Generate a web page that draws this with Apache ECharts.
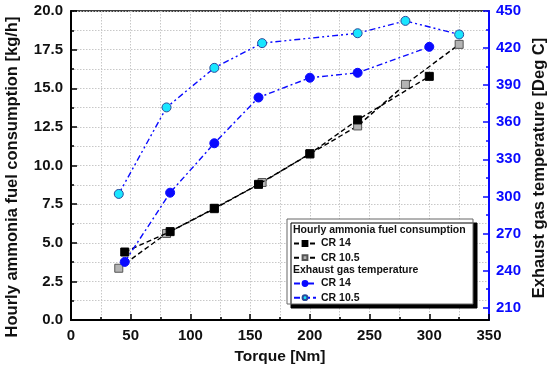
<!DOCTYPE html>
<html>
<head>
<meta charset="utf-8">
<script src="https://cdn.jsdelivr.net/npm/echarts@6/dist/echarts.min.js"></script>
<style>html,body{margin:0;padding:0;background:#fff}#c{width:550px;height:378px}</style>
</head>
<body>
<div id="c"></div>
<script>
// ---- data ----
const fuelCR14X = [45, 83, 120, 157, 200, 240, 300];
const fuelCR14 = [4.40, 5.72, 7.23, 8.78, 10.76, 12.95, 15.77];
const fuelCR105X = [40, 80, 120, 160, 200, 240, 280, 325];
const fuelCR105 = [3.35, 5.60, 7.20, 8.90, 10.75, 12.56, 15.25, 17.84];
const tempCR14X = [45, 83, 120, 157, 200, 240, 300];
const tempCR14 = [247, 303, 343, 380, 396, 400, 421];
const tempCR105X = [40, 80, 120, 160, 240, 280, 325];
const tempCR105 = [302, 372, 404, 424, 432, 442, 431];
const tempTicks = [210, 240, 270, 300, 330, 360, 390, 420, 450];
const tempMinorTicks = [225, 255, 285, 315, 345, 375, 405, 435];
const legendNames = {fuel14: 'CR 14', fuel105: 'CR 10.5', temp14: 'CR 14', temp105: 'CR 10.5'};

const pair = (xs, ys) => xs.map((x, i) => [x, ys[i]]);
const FONT = '"Liberation Sans", Arial, sans-serif';
const BLUE = '#0a0aff';

const chart = echarts.init(document.getElementById('c'), null, {renderer: 'canvas'});
const dotted = {show: true, lineStyle: {color: '#c8c8c8', type: [1.5, 1.5], width: 1}};

chart.setOption({
  animation: false,
  grid: {left: 71, right: 61, top: 11, bottom: 58, show: true, borderColor: '#000', borderWidth: 1.5, backgroundColor: 'transparent'},
  xAxis: {
    type: 'value', min: 0, max: 350, interval: 50,
    name: 'Torque [Nm]', nameLocation: 'middle', nameGap: 29,
    nameTextStyle: {fontFamily: FONT, fontWeight: 'bold', fontSize: 15.5, color: '#111'},
    axisLine: {show: true, lineStyle: {color: '#000', width: 2}},
    axisTick: {show: true, inside: true, length: 6, lineStyle: {color: '#000', width: 1.5}},
    minorTick: {show: true, splitNumber: 2, length: 3, lineStyle: {color: '#000', width: 1.5}},
    axisLabel: {fontFamily: FONT, fontWeight: 'bold', fontSize: 15, color: '#111', margin: 8},
    splitLine: dotted,
    minorSplitLine: dotted
  },
  yAxis: [
    {
      type: 'value', min: 0, max: 20, interval: 2.5, position: 'left',
      axisLine: {show: true, lineStyle: {color: '#000', width: 2}},
      axisTick: {show: true, inside: true, length: 6, lineStyle: {color: '#000', width: 1.5}},
      minorTick: {show: true, splitNumber: 2, length: 3, lineStyle: {color: '#000', width: 1.5}},
      axisLabel: {fontFamily: FONT, fontWeight: 'bold', fontSize: 15, color: '#111', margin: 8, formatter: v => v.toFixed(1)},
      splitLine: dotted,
      minorSplitLine: dotted
    },
    {
      type: 'value', min: 200, max: 450, position: 'right',
      axisLine: {show: true, lineStyle: {color: BLUE, width: 2}},
      axisTick: {show: true, inside: true, length: 6, customValues: tempTicks, lineStyle: {color: BLUE, width: 1.5}},
      axisLabel: {fontFamily: FONT, fontWeight: 'bold', fontSize: 15, color: BLUE, margin: 7, customValues: tempTicks},
      splitLine: {show: false}
    },
    {
      type: 'value', min: 200, max: 450, position: 'right',
      axisLine: {show: false},
      axisTick: {show: true, inside: true, length: 3, customValues: tempMinorTicks, lineStyle: {color: BLUE, width: 1.5}},
      axisLabel: {show: false},
      splitLine: {show: false}
    }
  ],
  legend: [
    {
      data: ['fuel14', 'fuel105'], orient: 'vertical', left: 293, top: 238, padding: 0,
      itemWidth: 22, itemHeight: 6, itemGap: 3.2, z: 20,
      formatter: n => legendNames[n],
      textStyle: {fontFamily: FONT, fontWeight: 'bold', fontSize: 10.5, color: '#111', lineHeight: 10}
    },
    {
      data: ['temp14', 'temp105'], orient: 'vertical', left: 293, top: 278, padding: 0,
      itemWidth: 22, itemHeight: 6, itemGap: 3.2, z: 20,
      formatter: n => legendNames[n],
      textStyle: {fontFamily: FONT, fontWeight: 'bold', fontSize: 10.5, color: '#111', lineHeight: 10}
    }
  ],
  graphic: [
    {type: 'rect', z: 10, shape: {x: 287, y: 219, width: 186, height: 85},
      style: {fill: '#fff', stroke: '#666', lineWidth: 1, shadowColor: '#000', shadowBlur: 0, shadowOffsetX: 4, shadowOffsetY: 4}},
    {type: 'text', z: 15, x: 293, y: 230, style: {text: 'Hourly ammonia fuel consumption', font: 'bold 10.5px ' + FONT, fill: '#111', verticalAlign: 'middle'}},
    {type: 'text', z: 15, x: 293, y: 270, style: {text: 'Exhaust gas temperature', font: 'bold 10.5px ' + FONT, fill: '#111', verticalAlign: 'middle'}},
    {type: 'text', z: 15, x: 12, y: 177, rotation: Math.PI / 2,
      style: {text: 'Hourly ammonia fuel consumption [kg/h]', font: 'bold 16.5px ' + FONT, fill: '#111', align: 'center', verticalAlign: 'middle'}},
    {type: 'text', z: 15, x: 539, y: 168, rotation: Math.PI / 2,
      style: {text: 'Exhaust gas temperature [Deg C]', font: 'bold 16.5px ' + FONT, fill: '#111', align: 'center', verticalAlign: 'middle'}}
  ],
  series: [
    {name: 'fuel105', type: 'line', yAxisIndex: 0, data: pair(fuelCR105X, fuelCR105),
      symbol: 'rect', symbolSize: 8, z: 3,
      lineStyle: {color: '#000', width: 1.4, type: [5, 3]},
      itemStyle: {color: '#b4b4b4', borderColor: '#555', borderWidth: 1}},
    {name: 'fuel14', type: 'line', yAxisIndex: 0, data: pair(fuelCR14X, fuelCR14),
      symbol: 'rect', symbolSize: 8, z: 4,
      lineStyle: {color: '#000', width: 1.4, type: [5, 3]},
      itemStyle: {color: '#000', borderColor: '#000', borderWidth: 1}},
    {name: 'temp105', type: 'line', yAxisIndex: 1, data: pair(tempCR105X, tempCR105),
      symbol: 'circle', symbolSize: 9, z: 3,
      lineStyle: {color: BLUE, width: 1.4, type: [6, 3, 2, 3, 2, 3]},
      itemStyle: {color: '#19e6ff', borderColor: '#2a4a9a', borderWidth: 1}},
    {name: 'temp14', type: 'line', yAxisIndex: 1, data: pair(tempCR14X, tempCR14),
      symbol: 'circle', symbolSize: 9, z: 4,
      lineStyle: {color: BLUE, width: 1.4, type: [6, 3, 2, 3]},
      itemStyle: {color: BLUE, borderColor: BLUE, borderWidth: 1}}
  ]
});
</script>
</body>
</html>
